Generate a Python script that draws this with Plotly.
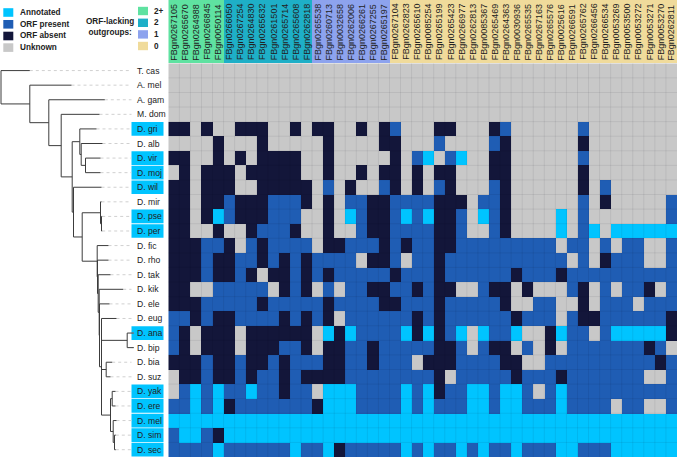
import plotly.graph_objects as go

W, H = 677, 458

# ---------------- data ----------------
genes = ["FBgn0267105", "FBgn0265670", "FBgn0264988", "FBgn0266845", "FBgn0050114",
         "FBgn0266050", "FBgn0267254", "FBgn0264830", "FBgn0265632", "FBgn0261501",
         "FBgn0265714", "FBgn0265608", "FBgn0262818", "FBgn0265538", "FBgn0260713",
         "FBgn0032658", "FBgn0262006", "FBgn0266261", "FBgn0267255", "FBgn0265197",
         "FBgn0267104", "FBgn0262823", "FBgn0265610", "FBgn0085254", "FBgn0265199",
         "FBgn0265423", "FBgn0266977", "FBgn0262813", "FBgn0085367", "FBgn0265469",
         "FBgn0264363", "FBgn0030936", "FBgn0265535", "FBgn0267163", "FBgn0265576",
         "FBgn0025616", "FBgn0266591", "FBgn0265762", "FBgn0266456", "FBgn0266534",
         "FBgn0053269", "FBgn0053500", "FBgn0053272", "FBgn0053271", "FBgn0053270",
         "FBgn0262811"]

outgroup_class = ["2+", "2+", "2+", "2+", "2+",
                  "2", "2", "2", "2", "2", "2", "2", "2",
                  "1", "1", "1", "1", "1", "1", "1",
                  "0", "0", "0", "0", "0", "0", "0", "0", "0", "0", "0", "0", "0",
                  "0", "0", "0", "0", "0", "0", "0", "0", "0", "0", "0", "0", "0"]

species = ["T. cas", "A. mel", "A. gam", "M. dom", "D. gri", "D. alb", "D. vir",
           "D. moj", "D. wil", "D. mir", "D. pse", "D. per", "D. fic", "D. rho",
           "D. tak", "D. kik", "D. ele", "D. eug", "D. ana", "D. bip", "D. bia",
           "D. suz", "D. yak", "D. ere", "D. mel", "D. sim", "D. sec"]

annotated_species = ["D. gri", "D. vir", "D. moj", "D. wil", "D. pse", "D. per",
                     "D. ana", "D. yak", "D. ere", "D. mel", "D. sim", "D. sec"]

# A = annotated, P = ORF present, X = ORF absent, U = unknown
status_rows = [
    "UUUUUUUUUUUUUUUUUUUUUUUUUUUUUUUUUUUUUUUUUUUUUU",  # T. cas
    "UUUUUUUUUUUUUUUUUUUUUUUUUUUUUUUUUUUUUUUUUUUUUU",  # A. mel
    "UUUUUUUUUUUUUUUUUUUUUUUUUUUUUUUUUUUUUUUUUUUUUU",  # A. gam
    "UUUUUUUUUUUUUUUUUUUUUUUUUUUUUUUUUUUUUUUUUUUUUU",  # M. dom
    "XXUXUUXXXUUXUXXUUXUXPUUUXXUUUXPUUUUUUPUUUUUUUU",  # D. gri
    "UUUUXUUUXUUUUUXUUUUXXUUUPUUUUPXUUUUUUXUUUUUUUU",  # D. alb
    "XXUUXUXUXXXXUUXUUUUUXUPAUPAUUXXUUUUUUPUUUUUUUU",  # D. vir
    "UXUXXXUXXXXXUUXUUXUXXUXUXXUUUXXUUUUUUXUUUUUUUU",  # D. moj
    "XXUXXXUUXXXXXUPUXUUPXUXUPXUUUPXUUUUUUXUPUUUUUU",  # D. wil
    "XXUXXPXXXPPPXUXUPPXXPPPPXXXUPPXUUUUUUPUXUUUUUP",  # D. mir
    "XXUXAPXXXPPPUUXUAPXXPAPAXXPUAPXUUUUAUPUUUUUUUP",  # D. pse
    "XXUUXUUXPPPXUUXUUPXXPPPPXXPUUPXUUUUAUPAUAAAAAA",  # D. per
    "XXXPPXUPXPPPPUXXPPPXPXPPXXPPPPPPPPPUPPUPUPPUUP",  # D. fic
    "XXXPXXPPXPXPXPPPPUXXPUPPXPPPPPPPPPPPUPUXPPPUUP",  # D. rho
    "XXXPXXPXUXXPXPXPPPPPXPPPXPPPPPPXPPPXPPPPPPPPPP",  # D. tak
    "XXUUPPPPPUXPXUPUPPXXPPXPXXUUPXXUXUUUPXUPUPPXUP",  # D. kik
    "XXXPPPPPXPPPPPXPPPPXXPPPXPPPPPXUUPPUUXUPPPUPPP",  # D. ele
    "PPXPXXPPPPXPXPXUPPPPPPXPXPPPPPPXPPPUPXXPPPPPPX",  # D. eug
    "PXUXXXUXXXXXXUAXAPPPPAXAXPAUAPPAUUXAPPUPAAAAAX",  # D. ana
    "PXUXXXUXXXPPXUXXPPXPPPPPXXPUPXXUPUXUPPPPPPPXPU",  # D. bip
    "XXXPXXPXXPXPPPXXPPXPPPUXXXPPPPXXUUPPPPPPPPPPXP",  # D. bia
    "UXXPXXPXPPXPXXXXPPPPPPPPXUPPPPPXPPPXPPPPPPPUUP",  # D. suz
    "UPAPAPPAPPXPPUAAAPPPPAPAXPPAAPAAPUPAPPPPPPPPPP",  # D. yak
    "PPAPAXPPPPPPPXAAAPPPPAPAPPPAAPAAPPPAPPPPUPPUUP",  # D. ere
    "AAAAAAAAAAAAAAAAAAAAAAAAAAAAAAAAAAAAAAAAAAAAAA",  # D. mel
    "PAAPXAAAAAAAAAAAAAAAAAAAAAAAAAAAAAAAAAAAAAAAAA",  # D. sim
    "PPPPAPPPPPPAPPAXPPPPPAPAPPAPAPPAPPPAAPPPAAAAAA",  # D. sec
]

status_names = ["Annotated", "ORF present", "ORF absent", "Unknown"]
status_codes = ["A", "P", "X", "U"]
status_colors = ["#00c4ff", "#1f5db4", "#13163a", "#c8c8c8"]

outgroup_names = ["2+", "2", "1", "0"]
outgroup_colors = ["#5fe2a1", "#1eafc7", "#8da3ee", "#f0db9b"]

# species tree: leaf = (name, branch length), node = ([children], branch length)
tree = ([
    ("T. cas", 28.8),
    ([
        ("A. mel", 41.7),
        ([
            ("A. gam", 56.0),
            ([
                ("M. dom", 38.3),
                ([
                    ([("D. gri", 16.7),
                      ([("D. alb", 21.3),
                        ([("D. vir", 15.0), ("D. moj", 15.0)], 4.3)], 1.4)], 7.6),
                    ([("D. wil", 28.0),
                      ([([("D. mir", 1.0),
                          ([("D. pse", 0.7), ("D. per", 0.7)], 1.0)], 18.3),
                        ([("D. fic", 11.3),
                          ([("D. rho", 11.0),
                            ([("D. tak", 12.3),
                              ([("D. kik", 24.0),
                                ([("D. ele", 10.0),
                                  ([("D. eug", 15.0),
                                    ([("D. ana", 6.6), ("D. bip", 6.6)], 25.7),
                                    ([("D. bia", 6.0), ("D. suz", 4.3)], 4.7),
                                    ([([("D. yak", 3.3), ("D. ere", 3.3)], 1.7),
                                      ([("D. mel", 3.3),
                                        ([("D. sim", 1.3), ("D. sec", 1.3)], 1.3)], 2.7)], 9.0)
                                    ], 2.0)], 0.3)], 1.0)], 0.7)], 0.3)], 15.0)
                        ], 8.7)], 1.3)
                ], 11.0)
            ], 12.4)
        ], 19.0)
    ], 28.8)
], 0.5)

# ---------------- geometry ----------------
heat_left, heat_top, heat_bottom = 168.3, 63.3, 457.0
label_x, box_x0, box_x1 = 134.0, 131.0, 163.0
FONT = "Liberation Sans, Arial, sans-serif"


def px_x(p):
    return p / W


def px_y(p):
    return 1 - p / H


# ---------------- figure ----------------
fig = go.Figure()

code_index = {c: i for i, c in enumerate(status_codes)}
z = [[code_index[ch] for ch in row] for row in status_rows]
n = len(status_colors)
cs = []
for i, c in enumerate(status_colors):
    cs.append([i / n, c])
    cs.append([(i + 1) / n, c])

fig.add_trace(go.Heatmap(
    z=z, x=list(range(len(genes))), y=list(range(len(species))),
    colorscale=cs, zmin=-0.5, zmax=n - 0.5, showscale=False,
    xaxis="x", yaxis="y", hoverinfo="skip"))

# faint cell borders
gx, gy = [], []
for i in range(1, len(genes)):
    gx.extend([i - 0.5, i - 0.5, None])
    gy.extend([-0.5, len(species) - 0.5, None])
for j in range(1, len(species)):
    gx.extend([-0.5, len(genes) - 0.5, None])
    gy.extend([j - 0.5, j - 0.5, None])
fig.add_trace(go.Scatter(x=gx, y=gy, mode="lines", xaxis="x", yaxis="y",
                         line=dict(color="rgba(0,0,30,0.07)", width=1),
                         hoverinfo="skip", showlegend=False))

# header band
og_index = {c: i for i, c in enumerate(outgroup_names)}
zb = [[og_index[c] for c in outgroup_class]]
m = len(outgroup_colors)
csb = []
for i, c in enumerate(outgroup_colors):
    csb.append([i / m, c])
    csb.append([(i + 1) / m, c])
fig.add_trace(go.Heatmap(
    z=zb, x=list(range(len(genes))), y=[0], colorscale=csb,
    zmin=-0.5, zmax=m - 0.5, showscale=False, xaxis="x", yaxis="y3",
    hoverinfo="skip"))

# tree layout
leaf_y = {s: i for i, s in enumerate(species)}
seg_x, seg_y = [], []
tips = []


def layout_node(node, x0):
    content, bl = node
    x = x0 + bl
    if isinstance(content, str):
        y = leaf_y[content]
        tips.append((content, x, y))
        return x, y
    ys = []
    for child in content:
        cx, cy = layout_node(child, x)
        seg_x.extend([x, cx, None])
        seg_y.extend([cy, cy, None])
        ys.append(cy)
    seg_x.extend([x, x, None])
    seg_y.extend([ys[0], ys[-1], None])
    return x, (ys[0] + ys[-1]) / 2


layout_node(tree, 0.0)

dx, dy = [], []
for name, x, y in tips:
    dx.extend([x, box_x0, None])
    dy.extend([y, y, None])
fig.add_trace(go.Scatter(x=dx, y=dy, mode="lines", xaxis="x2", yaxis="y",
                         line=dict(color="#d0d0d0", width=1, dash="dot"),
                         hoverinfo="skip", showlegend=False))
fig.add_trace(go.Scatter(x=seg_x, y=seg_y, mode="lines", xaxis="x2", yaxis="y",
                         line=dict(color="#3c3c3c", width=1),
                         hoverinfo="skip", showlegend=False))

shapes = []
annotations = []

# highlight boxes + row labels
for s in species:
    r = leaf_y[s]
    if s in annotated_species:
        shapes.append(dict(type="rect", xref="x2", yref="y", x0=box_x0, x1=box_x1,
                           y0=r - 0.47, y1=r + 0.47, fillcolor=status_colors[0],
                           line=dict(width=0), layer="below"))
    annotations.append(dict(x=label_x, y=r, xref="x2", yref="y", text=s,
                            showarrow=False, xanchor="left", yanchor="middle",
                            font=dict(size=8.6, color="#222", family=FONT)))

# column labels
for i, g in enumerate(genes):
    annotations.append(dict(x=i, y=-0.5, xref="x", yref="y3", text=g,
                            textangle=-90, showarrow=False, xanchor="center",
                            yanchor="bottom", yshift=1,
                            font=dict(size=9, color="#222", family=FONT)))

# status legend
leg_y = [12.5, 24.3, 36.0, 47.6]
for name, col, yc in zip(status_names, status_colors, leg_y):
    shapes.append(dict(type="rect", xref="paper", yref="paper",
                       x0=px_x(3.3), x1=px_x(13.3), y0=px_y(yc - 4.3), y1=px_y(yc + 4.3),
                       fillcolor=col, line=dict(width=0)))
    annotations.append(dict(x=px_x(18), y=px_y(yc), xref="paper", yref="paper",
                            text="<b>%s</b>" % name, showarrow=False,
                            xanchor="left", yanchor="middle",
                            font=dict(size=8.2, color="#222", family=FONT)))

# outgroup legend
og_y = [11.0, 22.8, 34.4, 46.0]
for name, col, yc in zip(outgroup_names, outgroup_colors, og_y):
    shapes.append(dict(type="rect", xref="paper", yref="paper",
                       x0=px_x(138), x1=px_x(148), y0=px_y(yc - 4.2), y1=px_y(yc + 4.2),
                       fillcolor=col, line=dict(width=0)))
    annotations.append(dict(x=px_x(152), y=px_y(yc), xref="paper", yref="paper",
                            text="<b>%s</b>" % name, showarrow=False,
                            xanchor="left", yanchor="middle",
                            font=dict(size=8.2, color="#222", family=FONT)))
annotations.append(dict(x=px_x(110), y=px_y(26.5), xref="paper", yref="paper",
                        text="<b>ORF-lacking<br>outgroups:</b>", showarrow=False,
                        xanchor="center", yanchor="middle", align="center",
                        font=dict(size=8.2, color="#222", family=FONT)))

heat_dom = [1 - heat_bottom / H, 1 - heat_top / H]
fig.update_layout(
    width=W, height=H, margin=dict(l=0, r=0, t=0, b=0),
    paper_bgcolor="white", plot_bgcolor="white", showlegend=False,
    xaxis=dict(domain=[heat_left / W, 1], range=[-0.5, len(genes) - 0.5],
               visible=False, anchor="y", fixedrange=True),
    yaxis=dict(domain=heat_dom, range=[len(species) - 0.5, -0.5],
               visible=False, anchor="x", fixedrange=True),
    xaxis2=dict(domain=[0, heat_left / W], range=[-0.5, heat_left - 0.5],
                visible=False, anchor="y", fixedrange=True),
    yaxis3=dict(domain=[heat_dom[1], 1], range=[-0.5, 0.5],
                visible=False, anchor="x", fixedrange=True),
    shapes=shapes, annotations=annotations,
)

fig.write_html("out.html", config={"displayModeBar": False},
               post_script="document.body.style.margin='0px';"
                           "document.body.style.overflow='hidden';")
